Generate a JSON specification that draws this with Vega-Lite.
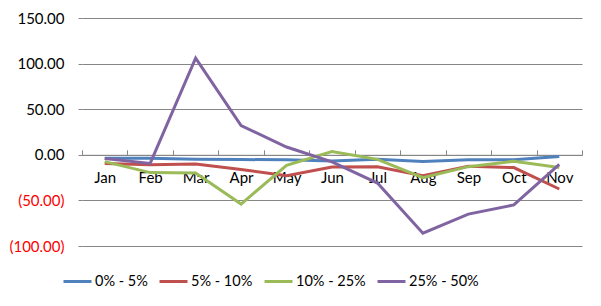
{
  "$schema": "https://vega.github.io/schema/vega-lite/v6.json",
  "width": 500,
  "height": 228,
  "autosize": {"type": "none"},
  "padding": {"left": 82, "top": 18, "right": 19, "bottom": 60},
  "background": "white",
  "config": {
    "view": {"stroke": null},
    "font": "Lato",
    "axis": {"labelFont": "Lato", "labelFontSize": 15, "labelColor": "#000000"},
    "legend": {"labelFont": "Lato", "labelFontSize": 14.5, "labelColor": "#000000"}
  },
  "data": {
    "values": [
      {"month": "Jan", "series": "0% - 5%", "value": -3.7},
      {"month": "Feb", "series": "0% - 5%", "value": -3.7},
      {"month": "Mar", "series": "0% - 5%", "value": -4.8},
      {"month": "Apr", "series": "0% - 5%", "value": -5.2},
      {"month": "May", "series": "0% - 5%", "value": -5.5},
      {"month": "Jun", "series": "0% - 5%", "value": -6.7},
      {"month": "Jul", "series": "0% - 5%", "value": -4.8},
      {"month": "Aug", "series": "0% - 5%", "value": -7.4},
      {"month": "Sep", "series": "0% - 5%", "value": -5.5},
      {"month": "Oct", "series": "0% - 5%", "value": -5.5},
      {"month": "Nov", "series": "0% - 5%", "value": -1.8},
      {"month": "Jan", "series": "5% - 10%", "value": -9.5},
      {"month": "Feb", "series": "5% - 10%", "value": -11},
      {"month": "Mar", "series": "5% - 10%", "value": -10},
      {"month": "Apr", "series": "5% - 10%", "value": -16},
      {"month": "May", "series": "5% - 10%", "value": -23},
      {"month": "Jun", "series": "5% - 10%", "value": -13.5},
      {"month": "Jul", "series": "5% - 10%", "value": -13},
      {"month": "Aug", "series": "5% - 10%", "value": -23},
      {"month": "Sep", "series": "5% - 10%", "value": -12.5},
      {"month": "Oct", "series": "5% - 10%", "value": -14},
      {"month": "Nov", "series": "5% - 10%", "value": -37.5},
      {"month": "Jan", "series": "10% - 25%", "value": -7.5},
      {"month": "Feb", "series": "10% - 25%", "value": -19.5},
      {"month": "Mar", "series": "10% - 25%", "value": -20},
      {"month": "Apr", "series": "10% - 25%", "value": -54},
      {"month": "May", "series": "10% - 25%", "value": -11.5},
      {"month": "Jun", "series": "10% - 25%", "value": 3.5},
      {"month": "Jul", "series": "10% - 25%", "value": -5},
      {"month": "Aug", "series": "10% - 25%", "value": -25},
      {"month": "Sep", "series": "10% - 25%", "value": -13},
      {"month": "Oct", "series": "10% - 25%", "value": -7},
      {"month": "Nov", "series": "10% - 25%", "value": -14},
      {"month": "Jan", "series": "25% - 50%", "value": -4},
      {"month": "Feb", "series": "25% - 50%", "value": -9.5},
      {"month": "Mar", "series": "25% - 50%", "value": 106},
      {"month": "Apr", "series": "25% - 50%", "value": 32},
      {"month": "May", "series": "25% - 50%", "value": 8.5},
      {"month": "Jun", "series": "25% - 50%", "value": -7.8},
      {"month": "Jul", "series": "25% - 50%", "value": -31},
      {"month": "Aug", "series": "25% - 50%", "value": -86},
      {"month": "Sep", "series": "25% - 50%", "value": -65},
      {"month": "Oct", "series": "25% - 50%", "value": -55},
      {"month": "Nov", "series": "25% - 50%", "value": -10.5}
    ]
  },
  "mark": {"type": "line", "strokeWidth": 3},
  "encoding": {
    "x": {
      "field": "month",
      "type": "nominal",
      "sort": ["Jan", "Feb", "Mar", "Apr", "May", "Jun", "Jul", "Aug", "Sep", "Oct", "Nov"],
      "scale": {"type": "band", "paddingInner": 0, "paddingOuter": 0},
      "axis": {
        "title": null,
        "labelAngle": 0,
        "offset": -91.2,
        "domainColor": "#868686",
        "tickColor": "#868686",
        "tickBand": "extent",
        "tickSize": -5,
        "labelPadding": 21,
        "grid": false
      }
    },
    "y": {
      "field": "value",
      "type": "quantitative",
      "scale": {"domain": [-100, 150], "nice": false, "zero": false},
      "axis": {
        "title": null,
        "values": [-100, -50, 0, 50, 100, 150],
        "domain": false,
        "tickSize": 4,
        "tickColor": "#868686",
        "gridColor": "#868686",
        "gridOpacity": 1,
        "labelPadding": 14,
        "labelExpr": "datum.value < 0 ? '(' + format(-datum.value, '.2f') + ')' : format(datum.value, '.2f')",
        "labelColor": {"condition": {"test": "datum.value < 0", "value": "#FF0000"}, "value": "#000000"}
      }
    },
    "color": {
      "field": "series",
      "type": "nominal",
      "scale": {
        "domain": ["0% - 5%", "5% - 10%", "10% - 25%", "25% - 50%"],
        "range": ["#4F81BD", "#C0504D", "#9BBB59", "#8064A2"]
      },
      "legend": {
        "title": null,
        "orient": "none",
        "direction": "horizontal",
        "legendX": -20,
        "legendY": 248,
        "symbolType": "stroke",
        "symbolSize": 784,
        "symbolStrokeWidth": 3,
        "labelOffset": 2,
        "columnPadding": 5,
        "gridAlign": "none"
      }
    }
  }
}
